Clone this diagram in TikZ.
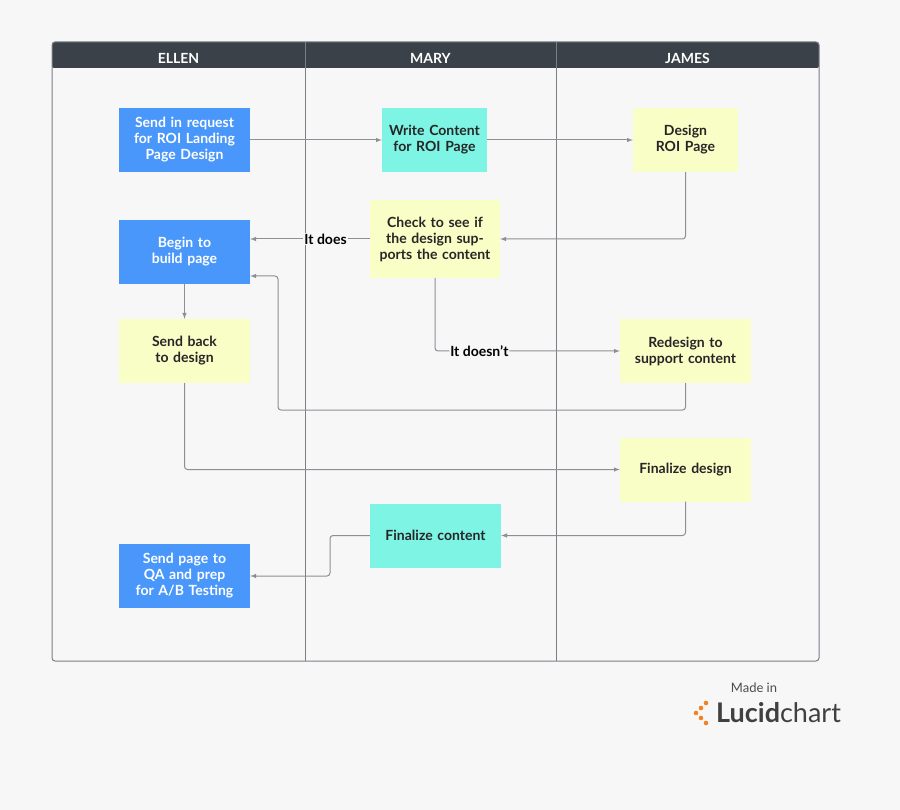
\documentclass[tikz,border=0pt]{standalone}
\usepackage{fontspec}
\setmainfont{Lato}
\usepackage{tikz}
\usetikzlibrary{calc, shapes, arrows}
\definecolor{bluebox}{HTML}{4A97FB}
\definecolor{tealbox}{HTML}{7DF4E4}
\definecolor{yellowbox}{HTML}{F9FDC6}
\definecolor{header}{HTML}{3B4149}
\definecolor{lane}{HTML}{7A7F86}
\definecolor{wire}{HTML}{8C8F94}
\definecolor{lucidorange}{HTML}{F5821F}
\tikzstyle{task} = [rectangle, minimum height=64pt, minimum width=131pt,
    text width=118pt, align=center, font=\fontsize{14}{16}\selectfont\bfseries,
    text=black!85, inner sep=2pt]
\tikzstyle{flow} = [draw=wire, line width=1pt, -latex]

\begin{document}
\begin{tikzpicture}[x=1pt, y=-1pt]
        \useasboundingbox (0,0) rectangle (900,810);
        \fill[black!3] (0,0) rectangle (900,810);

        % pool and lanes
        \fill[white!97!black] (52,42) rectangle (819,661);
        \fill[header, rounded corners=2pt] (52,42) rectangle (819,68);
        \draw[lane, line width=1pt, rounded corners=3pt] (52,42) rectangle (819,661);
        \draw[lane, line width=1pt] (305,42) -- (305,661);
        \draw[lane, line width=1pt] (556,42) -- (556,661);
        \foreach \x/\who in {178.5/ELLEN, 430.5/MARY, 687.5/JAMES}
            \node[text=white, font=\fontsize{14}{16}\selectfont\bfseries] at (\x,58) {\who};

        % tasks
        \node[task, fill=bluebox, text=white, name=request] at (184.5,140) {Send in request for ROI Landing Page Design};
        \node[task, fill=tealbox, minimum width=105pt, text width=96pt, name=write] at (434.5,140) {Write Content for ROI Page};
        \node[task, fill=yellowbox, minimum width=105pt, text width=96pt, name=design] at (685.5,140) {Design ROI Page};
        \node[task, fill=yellowbox, minimum width=130pt, minimum height=78pt, name=check] at (435,239) {Check to see if the design supports the content};
        \node[task, fill=bluebox, text=white, name=build] at (184.5,252) {Begin to build page};
        \node[task, fill=yellowbox, name=sendback] at (184.5,351) {Send back to design};
        \node[task, fill=yellowbox, name=redesign] at (685.5,351) {Redesign to support content};
        \node[task, fill=yellowbox, name=findesign] at (685.5,469.5) {Finalize design};
        \node[task, fill=tealbox, name=fincontent] at (435.5,535.5) {Finalize content};
        \node[task, fill=bluebox, text=white, name=qa] at (184.5,576) {Send page to QA and prep for A/B Testing};

        % connectors
        \draw[flow] (request) -- (write);
        \draw[flow] (write) -- (design);
        \draw[flow, rounded corners=3pt] (design.south) |- (check.east);
        \draw[flow] (check) -- node[fill=white!97!black, inner sep=1pt, font=\fontsize{14}{16}\selectfont\bfseries, pos=0.37] {It does} (build.east |- check.west);
        \draw[flow, rounded corners=3pt] (check.south) |- node[fill=white!97!black, inner sep=1pt, font=\fontsize{14}{16}\selectfont\bfseries, pos=0.62] {It doesn't} (redesign.west);
        \draw[flow, rounded corners=3pt] (redesign.south) |- (278,410) |- ($(build.east)+(0,24)$);
        \draw[flow] (build) -- (sendback);
        \draw[flow, rounded corners=3pt] (sendback.south) |- (findesign.west);
        \draw[flow, rounded corners=3pt] (findesign.south) |- (fincontent.east);
        \draw[flow, rounded corners=3pt] (fincontent.west) -| (330,576) -- (qa.east);

        % logo
        \node[text=black!70, font=\fontsize{13}{15}\selectfont] at (754,688) {Made in};
        \node[anchor=west, text=black!75, font=\fontsize{27}{30}\selectfont, inner sep=0pt, name=brand] at (716,713) {\textbf{Lucid}chart};
        \foreach \dx/\dy in {0/0, 5/-5, 10/-10, 5/5, 10/10}
            \fill[lucidorange] (696+\dx,713+\dy) circle (2.3pt);
\end{tikzpicture}
\end{document}
